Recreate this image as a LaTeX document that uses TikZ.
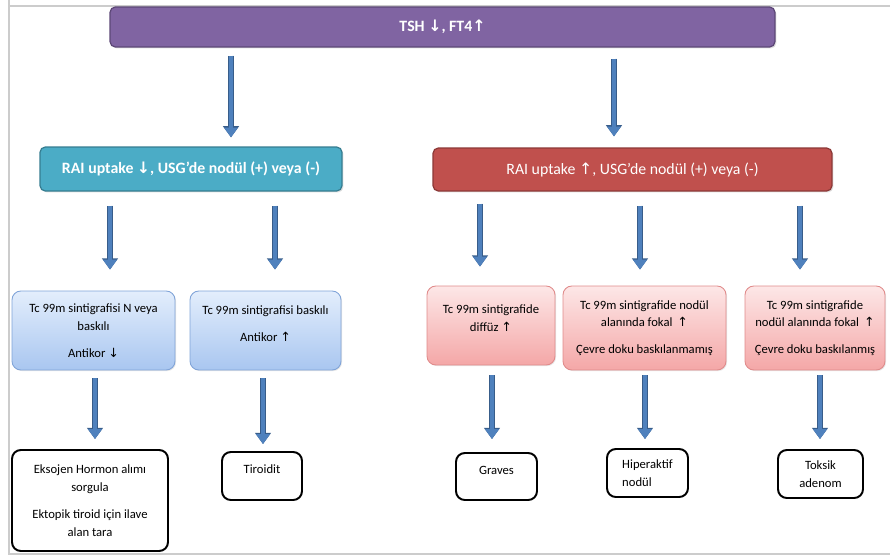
\documentclass[tikz,border=0pt]{standalone}
\usepackage{fontspec}
\setmainfont{Carlito}
\newfontfamily\arrfont{DejaVu Sans}
\usetikzlibrary{arrows.meta, shadows}
\newcommand{\upar}{{\arrfont ↑}}
\newcommand{\dnar}{{\arrfont ↓}}
\definecolor{topviolet}{HTML}{8064A2}
\definecolor{topvioletdk}{HTML}{5C4776}
\definecolor{raiteal}{HTML}{4BACC6}
\definecolor{raitealdk}{HTML}{357D91}
\definecolor{raired}{HTML}{C0504D}
\definecolor{rairedkd}{HTML}{8C3836}
\definecolor{arrblue}{HTML}{4F81BD}
\definecolor{arrdark}{HTML}{385D8A}
\definecolor{bluetop}{HTML}{E3EEFC}
\definecolor{bluebot}{HTML}{A9C6F0}
\definecolor{blueedge}{HTML}{7FA3D8}
\definecolor{pinktop}{HTML}{FDE7E7}
\definecolor{pinkbot}{HTML}{F4A7A7}
\definecolor{pinkedge}{HTML}{E08A8A}
\tikzset{
  headbox/.style={rounded corners=3pt, line width=0.7pt, text=white, align=center,
    drop shadow={opacity=0.25, shadow xshift=0.8pt, shadow yshift=-0.8pt},
    font=\fontsize{9}{11}\selectfont},
  bluebox/.style={rounded corners=5pt, draw=blueedge, line width=0.5pt, top color=bluetop,
    bottom color=bluebot, align=center, font=\fontsize{7.2}{10.2}\selectfont,
    drop shadow={opacity=0.2, shadow xshift=0.6pt, shadow yshift=-0.6pt}},
  pinkbox/.style={bluebox, draw=pinkedge, top color=pinktop, bottom color=pinkbot},
  endbox/.style={rounded corners=5pt, draw=black, line width=1.1pt, fill=white, align=center,
    font=\fontsize{7.2}{10.2}\selectfont},
  bigarr/.style={draw=arrblue, line width=2.8pt, -{Triangle[width=7.6pt,length=5.6pt]},
    preaction={draw=arrdark, line width=3.6pt, -{Triangle[width=8.8pt,length=6.4pt]}}},
  gap/.style 2 args={shorten <=#1, shorten >=#2},
}
\begin{document}
\begin{tikzpicture}[x=0.02cm, y=-0.02cm]
  \useasboundingbox (0,0) rectangle (890,558);
  % page frame
  \draw[gray!40, line width=0.6pt] (9,0) -- (9,554) -- (890,554);
  \draw[gray!40, line width=0.6pt] (9,6) -- (890,6);

  % first level
  \node[headbox, fill=topviolet, draw=topvioletdk, minimum width=13.3cm, minimum height=0.8cm]
    (tsh) at (442.5,27) {\textbf{TSH \dnar, FT4\upar}};

  % second level
  \node[headbox, fill=raiteal, draw=raitealdk, minimum width=6.04cm, minimum height=0.88cm]
    (raidn) at (191,169) {\textbf{RAI uptake \dnar, USG’de nodül (+) veya (-)}};
  \node[headbox, fill=raired, draw=rairedkd, minimum width=7.98cm, minimum height=0.86cm]
    (raiup) at (632.5,169.5) {RAI uptake \upar, USG’de nodül (+) veya (-)};

  % scintigraphy boxes
  \node[bluebox, minimum width=3.26cm, minimum height=1.58cm] (tcN) at (93.5,330.5)
    {Tc 99m sintigrafisi N veya\\ baskılı\\[5pt] Antikor \dnar};
  \node[bluebox, minimum width=3.02cm, minimum height=1.58cm] (tcB) at (265.5,330.5)
    {Tc 99m sintigrafisi baskılı\\[5pt] Antikor \upar\\[-2pt]\mbox{}};
  \node[pinkbox, minimum width=2.56cm, minimum height=1.58cm] (tcD) at (491,325.5)
    {Tc 99m sintigrafide\\ diffüz \upar\\[-2pt]\mbox{}};
  \node[pinkbox, minimum width=3.26cm, minimum height=1.68cm] (tcF) at (644.5,328)
    {Tc 99m sintigrafide nodül\\ alanında fokal\, \upar\\[5pt] Çevre doku baskılanmamış};
  \node[pinkbox, minimum width=2.8cm, minimum height=1.68cm] (tcT) at (815,328)
    {Tc 99m sintigrafide\\ nodül alanında fokal\, \upar\\[5pt] Çevre doku baskılanmış};

  % results
  \node[endbox, minimum width=3.12cm, minimum height=2.02cm] (ekso) at (90,500.5)
    {Eksojen Hormon alımı\\ sorgula\\[5pt] Ektopik tiroid için ilave\\ alan tara};
  \node[endbox, minimum width=1.6cm, minimum height=0.96cm] (tiro) at (262,476)
    {Tiroidit\\[-2pt]\mbox{}};
  \node[endbox, minimum width=1.62cm, minimum height=0.94cm] (grav) at (496.5,476.5)
    {Graves\\[-3pt]\mbox{}};
  \node[endbox, align=left, minimum width=1.62cm, minimum height=0.96cm] (hipr) at (647.5,473)
    {Hiperaktif\\ nodül};
  \node[endbox, minimum width=1.7cm, minimum height=0.96cm] (toks) at (820.5,474)
    {Toksik\\ adenom};

  % arrows
  \draw[bigarr, gap={.16cm}{.18cm}] (tsh.south -| 231,0) -- (raidn.north -| 231,0);
  \draw[bigarr, gap={.22cm}{.22cm}] (tsh.south -| 614,0) -- (raiup.north -| 614,0);
  \draw[bigarr, gap={.28cm}{.42cm}] (raidn.south -| 110,0) -- (tcN.north -| 110,0);
  \draw[bigarr, gap={.28cm}{.42cm}] (raidn.south -| 275,0) -- (tcB.north -| 275,0);
  \draw[bigarr, gap={.24cm}{.38cm}] (raiup.south -| 480,0) -- (tcD.north -| 480,0);
  \draw[bigarr, gap={.28cm}{.32cm}] (raiup.south -| 640,0) -- (tcF.north -| 640,0);
  \draw[bigarr, gap={.28cm}{.32cm}] (raiup.south -| 800,0) -- (tcT.north -| 800,0);
  \draw[bigarr, gap={.16cm}{.2cm}] (tcN.south -| 95,0) -- (ekso.north -| 95,0);
  \draw[bigarr, gap={.16cm}{.14cm}] (tcB.south -| 263,0) -- (tiro.north -| 263,0);
  \draw[bigarr, gap={.2cm}{.26cm}] (tcD.south -| 492,0) -- (grav.north -| 492,0);
  \draw[bigarr, gap={.1cm}{.18cm}] (tcF.south -| 645,0) -- (hipr.north -| 645,0);
  \draw[bigarr, gap={.1cm}{.2cm}] (tcT.south -| 820,0) -- (toks.north -| 820,0);
\end{tikzpicture}
\end{document}
